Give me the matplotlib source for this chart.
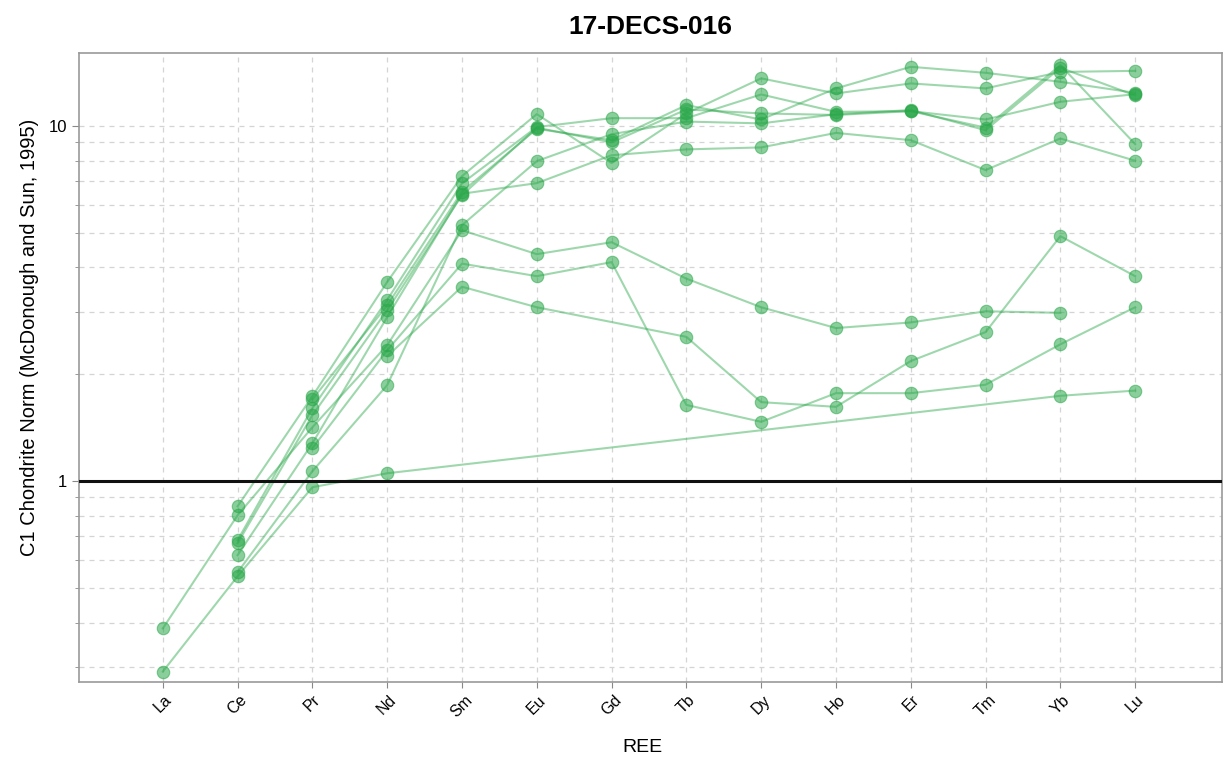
#!/usr/bin/env python3
"""Chondrite-normalised REE spider plot for sample 17-DECS-016."""

import numpy as np
import matplotlib
matplotlib.use('Agg')
import matplotlib.pyplot as plt
from matplotlib.ticker import LogLocator, FixedLocator, FixedFormatter, NullFormatter

nan = np.nan

# ---------------------------------------------------------------------------
# Data: C1-normalised REE abundances, one list per analysis (nan = not measured)
# ---------------------------------------------------------------------------
ree = ['La', 'Ce', 'Pr', 'Nd', 'Sm', 'Eu', 'Gd', 'Tb', 'Dy', 'Ho', 'Er', 'Tm', 'Yb', 'Lu']

spot_01 = [nan, 0.85, 1.735, 3.64, 7.23, 10.81, 7.87, 10.86, 13.63, 12.36, 13.19, 12.77, 14.21, 14.31]
spot_02 = [nan, 0.682, 1.606, 3.24, 6.90, 9.94, 10.53, 10.53, 12.28, 10.97, 11.02, 10.44, 11.71, 12.30]
spot_03 = [nan, nan, 1.70, 3.13, 6.53, 9.83, 9.13, 11.46, 10.44, 12.77, 14.69, 14.13, 13.33, 12.41]
spot_04 = [nan, 0.669, 1.534, 3.03, 6.39, 9.90, 9.00, 11.14, 10.86, 10.75, 11.02, 9.90, 14.85, 8.90]
spot_05 = [nan, 0.619, 1.279, 2.90, 6.45, 6.91, 8.28, 8.60, 8.71, 9.57, 9.13, 7.52, 9.23, 7.99]
spot_06 = [nan, 0.554, 1.067, 1.864, 5.26, 7.97, 9.49, 10.30, 10.18, 10.80, 11.10, 9.74, 14.60, 12.20]
spot_07 = [0.385, 0.802, 1.419, 2.416, 5.09, 4.36, 4.71, 3.72, 3.09, 2.70, 2.80, 3.01, 2.98, nan]
spot_08 = [nan, nan, 1.239, 2.338, 4.10, 3.78, 4.14, 1.64, 1.47, 1.77, 1.77, 1.87, 2.43, 3.09]
spot_09 = [nan, nan, nan, 2.25, 3.53, 3.09, nan, 2.55, 1.67, 1.62, 2.18, 2.63, 4.90, 3.78]
spot_10 = [0.291, 0.540, 0.962, 1.053, nan, nan, nan, nan, nan, nan, nan, nan, 1.74, 1.80]

spots = [spot_01, spot_02, spot_03, spot_04, spot_05,
         spot_06, spot_07, spot_08, spot_09, spot_10]

sample_name = '17-DECS-016'
x_label = 'REE'
y_label = 'C1 Chondrite Norm (McDonough and Sun, 1995)'

GREEN = '#2aa84a'

plt.rcParams['font.family'] = ['Liberation Sans', 'DejaVu Sans']

fig = plt.figure(figsize=(12.25, 7.71), dpi=100)
ax = fig.add_axes([0.0645, 0.1154, 0.933, 0.8159])

x = np.arange(len(ree))
for vals in spots:
    y = np.asarray(vals, dtype=float)
    ok = ~np.isnan(y)
    # connect only the measured elements
    ax.plot(x[ok], y[ok], '-', color=GREEN, lw=1.5, alpha=0.45, zorder=3)
    ax.plot(x[ok], y[ok], 'o', color=GREEN, ms=9, mec=GREEN, mew=0.8,
            alpha=0.55, zorder=4)

# chondrite reference line
ax.axhline(1.0, color='#111111', lw=2.2, zorder=5)

ax.set_yscale('log')
ax.set_ylim(0.272, 16.07)
ax.set_xlim(-1.12, 14.16)

ax.yaxis.set_major_locator(FixedLocator([1, 10]))
ax.yaxis.set_major_formatter(FixedFormatter(['1', '10']))
ax.yaxis.set_minor_locator(LogLocator(base=10, subs=np.arange(2, 10)))
ax.yaxis.set_minor_formatter(NullFormatter())

ax.set_xticks(x)
ax.set_xticklabels(ree, rotation=45, fontsize=11.5)
ax.tick_params(axis='y', which='major', labelsize=12, length=5, color='#888888')
ax.tick_params(axis='y', which='minor', length=3, color='#888888')
ax.tick_params(axis='x', length=4, color='#888888')

ax.grid(True, which='major', axis='both', ls=(0, (4, 4)), color='#d4d4d4', lw=0.9)
ax.grid(True, which='minor', axis='y', ls=(0, (4, 4)), color='#d4d4d4', lw=0.9)
ax.set_axisbelow(True)

for s in ax.spines.values():
    s.set_color('#999999')
    s.set_linewidth(1.2)

ax.set_xlabel(x_label, fontsize=14)
ax.set_ylabel(y_label, fontsize=14.5)
ax.xaxis.set_label_coords(0.4926, -0.091)
ax.yaxis.set_label_coords(-0.035, 0.548)
ax.set_title(sample_name, fontsize=19, fontweight='bold', pad=14)

fig.savefig('out.png', dpi=100)
